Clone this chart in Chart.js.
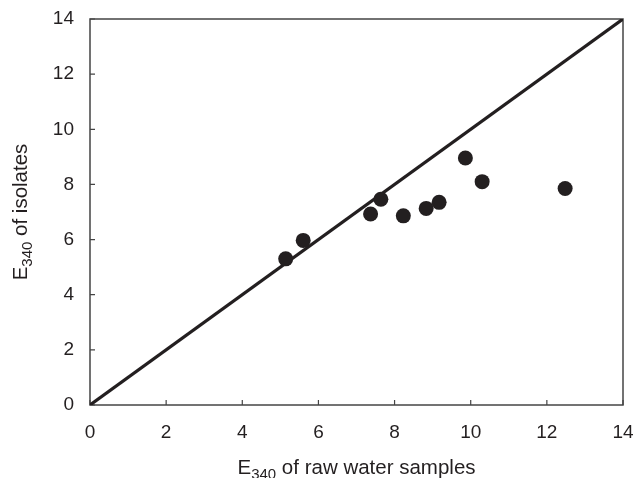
<!DOCTYPE html>
<html>
<head>
<meta charset="utf-8">
<script src="https://cdn.jsdelivr.net/npm/chart.js@4"></script>
<style>
  html, body { margin: 0; padding: 0; background: #fff; }
  #wrap { width: 635px; height: 478px; }
</style>
</head>
<body>
<div id="wrap"><canvas id="myChart" width="635" height="478"></canvas></div>
<script>
// E340 of raw water samples (x) vs E340 of isolates (y)
const rawWater = [5.14, 5.60, 7.37, 7.64, 8.23, 8.83, 9.17, 9.86, 10.30, 12.48];
const isolates = [5.30, 5.97, 6.93, 7.46, 6.86, 7.13, 7.35, 8.96, 8.10, 7.85];
// 1:1 line end points
const lineX = [0, 14];
const lineY = [0, 14];
// tick labels on both axes
const tickValues = [0, 2, 4, 6, 8, 10, 12, 14];

const ink = '#231f20';
const fontName = '"Liberation Sans", Arial, sans-serif';

const points = rawWater.map((x, i) => ({x: x, y: isolates[i]}));
const oneToOne = lineX.map((x, i) => ({x: x, y: lineY[i]}));

// draws "E" + subscript "340" + rest of the title at the current origin
function drawSubTitle(ctx, rest, cx, baseY) {
  const big = '20.5px ' + fontName;
  const small = '15px ' + fontName;
  ctx.font = big;
  const wE = ctx.measureText('E').width;
  const wRest = ctx.measureText(rest).width;
  ctx.font = small;
  const wSub = ctx.measureText('340').width;
  let x = cx - (wE + wSub + wRest) / 2;
  ctx.textAlign = 'left';
  ctx.textBaseline = 'alphabetic';
  ctx.font = big;
  ctx.fillText('E', x, baseY);
  x += wE;
  ctx.font = small;
  ctx.fillText('340', x, baseY + 5);
  x += wSub;
  ctx.font = big;
  ctx.fillText(rest, x, baseY);
}

// frame, inward tick marks and the axis titles
const framePlugin = {
  id: 'frame',
  beforeDatasetsDraw(chart) {
    const ctx = chart.ctx;
    const a = chart.chartArea;
    ctx.save();
    ctx.strokeStyle = '#444';
    ctx.lineWidth = 1.5;
    ctx.strokeRect(a.left, a.top, a.right - a.left, a.bottom - a.top);
    ctx.lineWidth = 1.2;
    ctx.beginPath();
    chart.scales.x.ticks.forEach(t => {
      const px = chart.scales.x.getPixelForValue(t.value);
      ctx.moveTo(px, a.bottom);
      ctx.lineTo(px, a.bottom - 5);
    });
    chart.scales.y.ticks.forEach(t => {
      const py = chart.scales.y.getPixelForValue(t.value);
      ctx.moveTo(a.left, py);
      ctx.lineTo(a.left + 5, py);
    });
    ctx.stroke();
    ctx.restore();
  },
  afterDraw(chart) {
    const ctx = chart.ctx;
    const a = chart.chartArea;
    ctx.save();
    ctx.fillStyle = ink;
    drawSubTitle(ctx, ' of raw water samples', (a.left + a.right) / 2, 474);
    ctx.translate(27, (a.top + a.bottom) / 2);
    ctx.rotate(-Math.PI / 2);
    drawSubTitle(ctx, ' of isolates', 0, 0);
    ctx.restore();
  }
};

const myChart = document.getElementById('myChart');

new Chart(myChart, {
  type: 'scatter',
  data: {
    datasets: [{
      label: 'samples',
      data: points,
      backgroundColor: ink,
      borderColor: ink,
      pointRadius: 7.5,
      pointHoverRadius: 7.5,
      borderWidth: 0
    }, {
      type: 'line',
      label: '1:1',
      data: oneToOne,
      borderColor: ink,
      borderWidth: 3.2,
      pointRadius: 0,
      fill: false
    }]
  },
  options: {
    responsive: false,
    animation: false,
    layout: { padding: { left: 0, top: 19, right: 12, bottom: 0 } },
    plugins: {
      legend: { display: false },
      tooltip: { enabled: false }
    },
    scales: {
      x: {
        type: 'linear',
        min: 0, max: 14,
        afterBuildTicks: s => { s.ticks = tickValues.map(v => ({value: v})); },
        afterFit: s => { s.height = 73; s.paddingLeft = 0; s.paddingRight = 0; },
        grid: { display: false, drawTicks: false },
        border: { display: false },
        ticks: { padding: 16, color: ink, font: { family: fontName, size: 19 } }
      },
      y: {
        type: 'linear',
        min: 0, max: 14,
        afterBuildTicks: s => { s.ticks = tickValues.map(v => ({value: v})); },
        afterFit: s => { s.width = 90; s.paddingTop = 0; s.paddingBottom = 0; },
        grid: { display: false, drawTicks: false },
        border: { display: false },
        ticks: { padding: 16, color: ink, font: { family: fontName, size: 19 } }
      }
    }
  },
  plugins: [framePlugin]
});
</script>
</body>
</html>
